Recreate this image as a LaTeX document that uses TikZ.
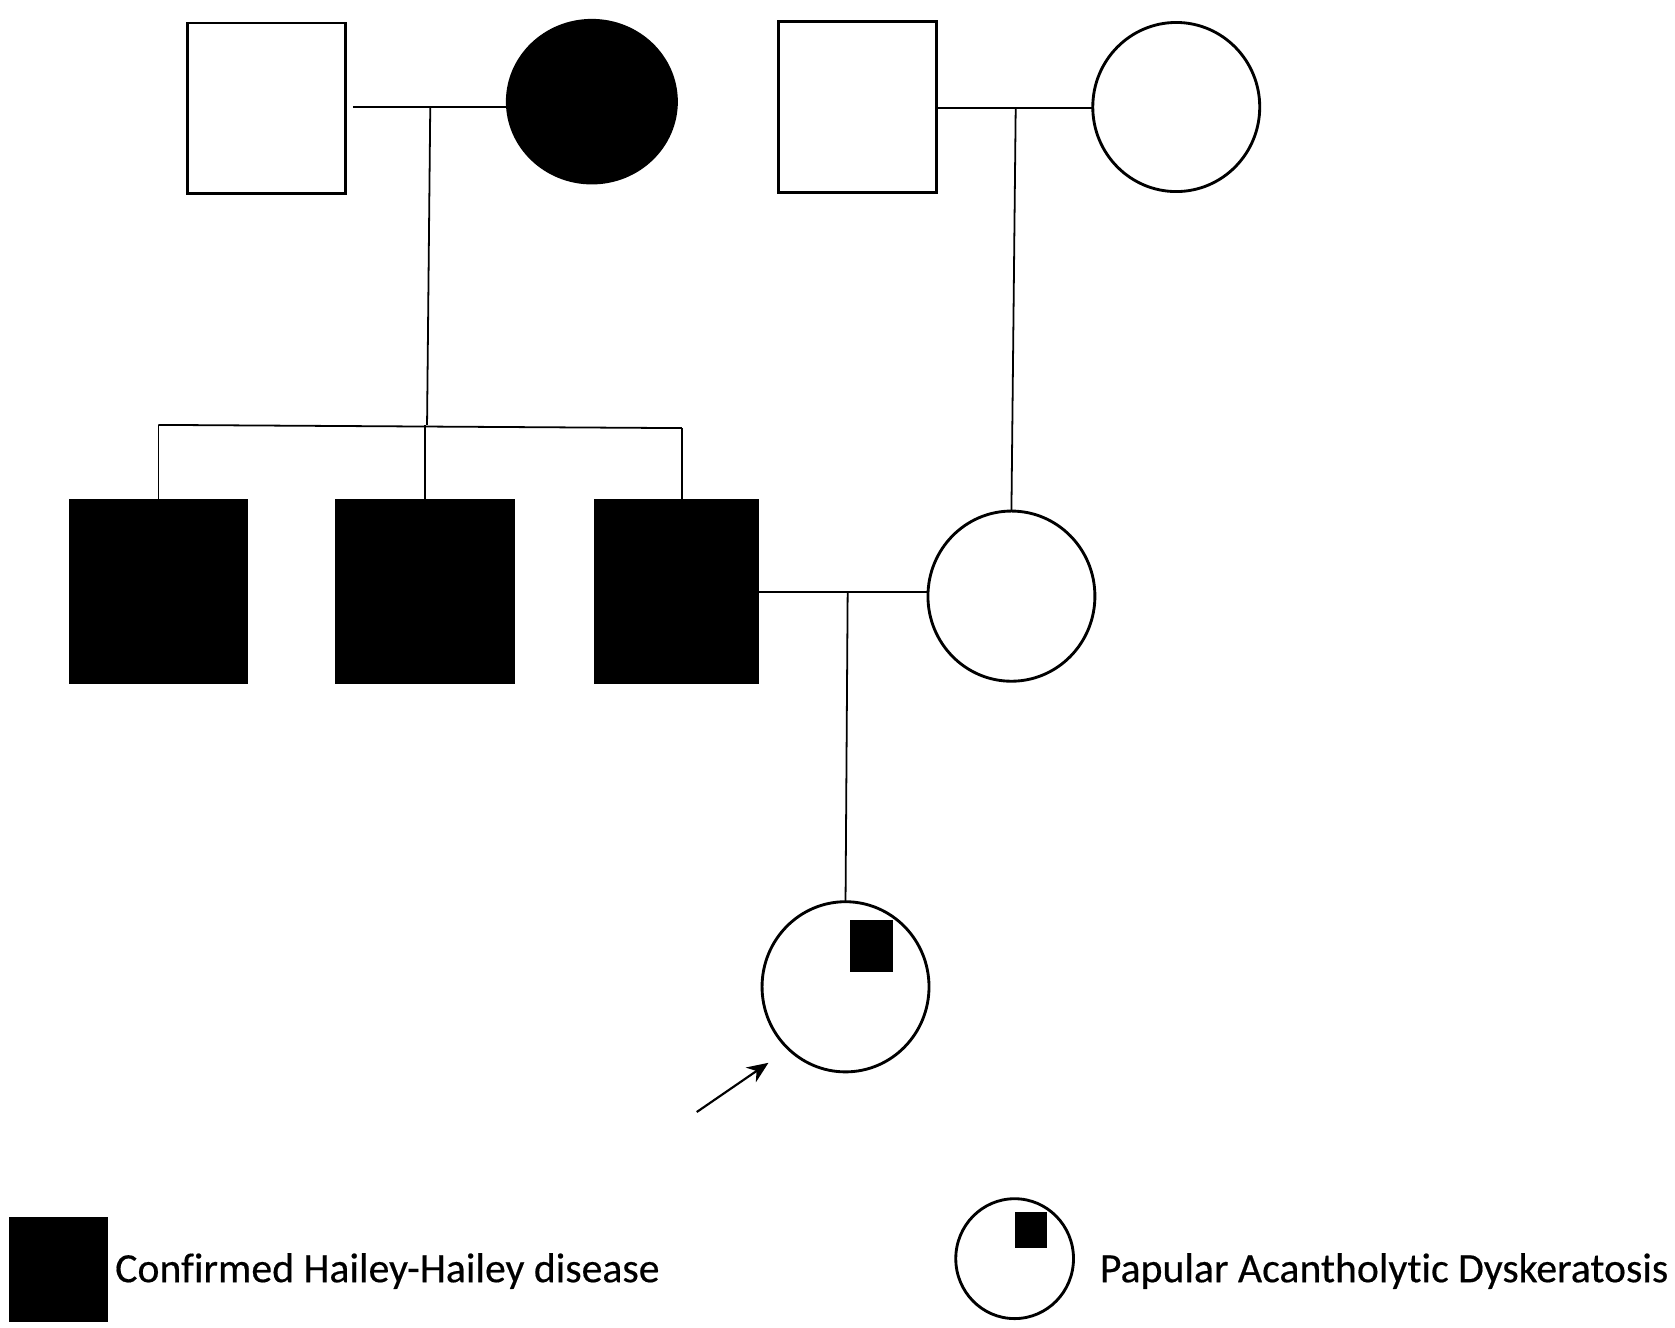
\documentclass[tikz,border=0pt]{standalone}
\usepackage{fontspec}
\setmainfont[Ligatures={NoCommon}]{Carlito}
\newfontfamily\lblfont[Ligatures={NoCommon,NoRare},Contextuals={NoAlternate},FakeBold=0.4]{Carlito}
\usetikzlibrary{arrows.meta,shapes.geometric}
\begin{document}
\begin{tikzpicture}[x=0.3pt,y=-0.3pt,
  shp/.style={draw, line width=0.8pt, inner sep=0pt, outer sep=0pt},
  sz/.style 2 args={minimum width=#1*0.3pt, minimum height=#2*0.3pt},
  male/.style={shp, rectangle},
  female/.style={shp, ellipse},
  aff/.style={fill=black},
  unaff/.style={fill=white},
  patch/.style={rectangle, fill=black, inner sep=0pt},
  link/.style={line width=0.5pt},
  lbl/.style={font=\lblfont\fontsize{11.7}{14}\selectfont, inner sep=0pt, anchor=base west}
]
\useasboundingbox (0,0) rectangle (1565,1240);
% Generation I
\node[male, unaff, sz={148}{159}] (g1a) at (249,101) {};
\node[female, aff, sz={158}{152}] (g1b) at (553,95) {};
\node[male, unaff, sz={148}{160}] (g1c) at (801,100) {};
\node[female, unaff, sz={156}{158}] (g1d) at (1099,100) {};
% Generation II
\node[male, aff, sz={164}{170}] (g2a) at (148,553) {};
\node[male, aff, sz={166}{170}] (g2b) at (397,553) {};
\node[male, aff, sz={152}{170}] (g2c) at (632,553) {};
\node[female, unaff, sz={156}{159}] (g2d) at (945,557) {};
% Generation III
\node[female, unaff, sz={156}{159}] (g3a) at (790,922) {};
\node[patch, sz={40}{48}] (g3m) at (814,884) {};
% marriage lines and descent
\coordinate (m1) at (402,100);
\coordinate (s1) at (399,397);
\coordinate (sl) at (148,397);
\coordinate (sr) at (637,400);
\coordinate (m2) at (949,101);
\coordinate (m3) at (792,553);
\draw[link] ([xshift=2pt]g1a.east |- m1) -- (g1b.west |- m1);
\draw[link] (m1) -- (s1);
\draw[link] (sl) -- (sr);
\draw[link] (sl) -- (g2a.north);
\draw[link] (s1 -| g2b.north) -- (g2b.north);
\draw[link] (sr) -- (sr |- g2c.north);
\draw[link] (g1c.east |- m2) -- (g1d.west |- m2);
\draw[link] (m2) -- (g2d.north);
\draw[link] (g2c.east |- m3) -- (g2d.west |- m3);
\draw[link] (m3) -- (g3a.north);
% proband arrow
\coordinate (pa) at (651,1039);
\coordinate (pb) at (718,993);
\draw[link, line width=0.6pt, -{Stealth[length=6pt,width=5pt]}] (pa) -- (pb);
% legend
\node[male, aff, draw=none, sz={93}{98}] (lega) at (54.5,1186) {};
\node[lbl] (legat) at (107,1198) {Confirmed Hailey-Hailey disease};
\node[female, unaff, sz={110}{112}] (legb) at (948,1176) {};
\node[patch, sz={30}{34}] (legbm) at (963,1149) {};
\node[lbl] (legbt) at (1027,1198) {Papular Acantholytic Dyskeratosis};
\end{tikzpicture}
\end{document}
